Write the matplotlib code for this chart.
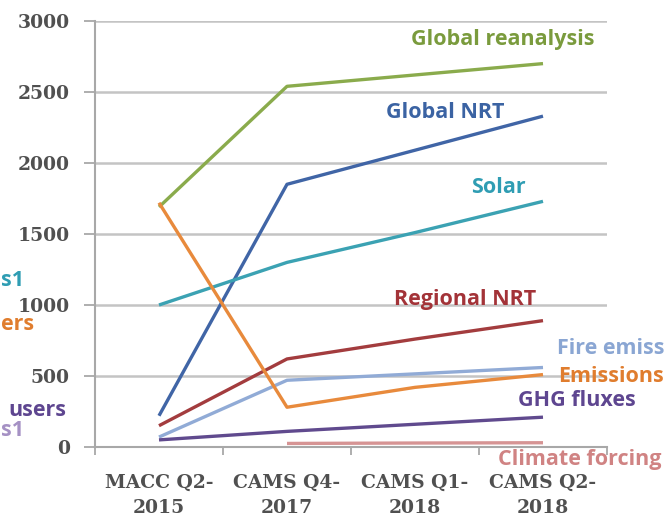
import numpy as np
import matplotlib
matplotlib.use("Agg")
import matplotlib.pyplot as plt
from matplotlib.ticker import FixedLocator

# Product catalogue growth per release
categories = ["MACC Q2-\n2015", "CAMS Q4-\n2017", "CAMS Q1-\n2018", "CAMS Q2-\n2018"]
global_reanalysis = [1690, 2540, 2620, 2700]
global_nrt = [220, 1850, 2090, 2330]
solar = [1000, 1300, 1510, 1730]
regional_nrt = [150, 620, 760, 890]
fire_emissions = [70, 470, 515, 560]
emissions = [1720, 280, 420, 510]
ghg_fluxes = [50, 110, 160, 210]
climate_forcing = [np.nan, 25, 28, 30]
y_ticks = [0, 500, 1000, 1500, 2000, 2500, 3000]

W, H = 667, 518
fig = plt.figure(figsize=(W / 100, H / 100), dpi=100)
fig.patch.set_facecolor("white")

# axes box in pixels: left 95, right 607, top 21, bottom 447
ax = fig.add_axes([95 / W, 1 - 447 / H, 512 / W, 426 / H])

series = [
    (global_reanalysis, "#8aab4c"),
    (global_nrt, "#4065a6"),
    (solar, "#3ba2b3"),
    (regional_nrt, "#a33c3e"),
    (fire_emissions, "#91abd6"),
    (emissions, "#e88a3c"),
    (ghg_fluxes, "#604a8e"),
    (climate_forcing, "#d69494"),
]
x = np.arange(len(categories))
for vals, col in series:
    ax.plot(x, vals, color=col, lw=2.4, solid_capstyle="butt", zorder=3)

ax.set_xlim(-0.5, 3.5)
ax.set_ylim(0, 3000)

grid_col = "#c4c4c4"
ax.yaxis.set_major_locator(FixedLocator(y_ticks))
ax.grid(axis="y", color=grid_col, lw=1.8, zorder=0)
ax.set_axisbelow(True)

for s in ["top", "right"]:
    ax.spines[s].set_visible(False)
for s in ["left", "bottom"]:
    ax.spines[s].set_color("#a8a8a8")
    ax.spines[s].set_linewidth(1.5)

tick_font = dict(family="DejaVu Serif", size=13.5, weight="bold", color="#505050")
ax.set_yticks(y_ticks)
ax.set_yticklabels([str(v) for v in y_ticks], **tick_font)
ax.tick_params(axis="y", length=8, width=1.3, color="#a8a8a8", pad=10)

ax.set_xticks(x)
ax.set_xticklabels(categories, linespacing=1.55, **tick_font)
ax.tick_params(axis="x", which="major", length=0, pad=19)
ax.set_xticks(np.arange(-0.5, 4.0, 1.0), minor=True)
ax.tick_params(axis="x", which="minor", length=6, width=1.3, color="#a8a8a8")


def label(px, py, text, col):
    fig.text(px / W, 1 - py / H, text, color=col, ha="left", va="center",
             family="Open Sans", weight="bold", size=15.5)


label(411, 40, "Global reanalysis", "#7a9b3d")
label(386, 113, "Global NRT", "#3b63a3")
label(471, 188, "Solar", "#2f9db3")
label(394, 300, "Regional NRT", "#a33338")
label(557, 349, "Fire emiss", "#8aa6d3")
label(558, 376, "Emissions", "#e07d2e")
label(518, 400, "GHG fluxes", "#5e4690")
label(498, 460, "Climate forcing", "#d08383")

# short labels along the left edge
label(1, 281, "s1", "#2f9db3")
label(1, 324, "ers", "#e07d2e")
label(8, 411, "users", "#5e4690")
label(1, 431, "s1", "#a591c4")

fig.savefig("out.png", dpi=100)
